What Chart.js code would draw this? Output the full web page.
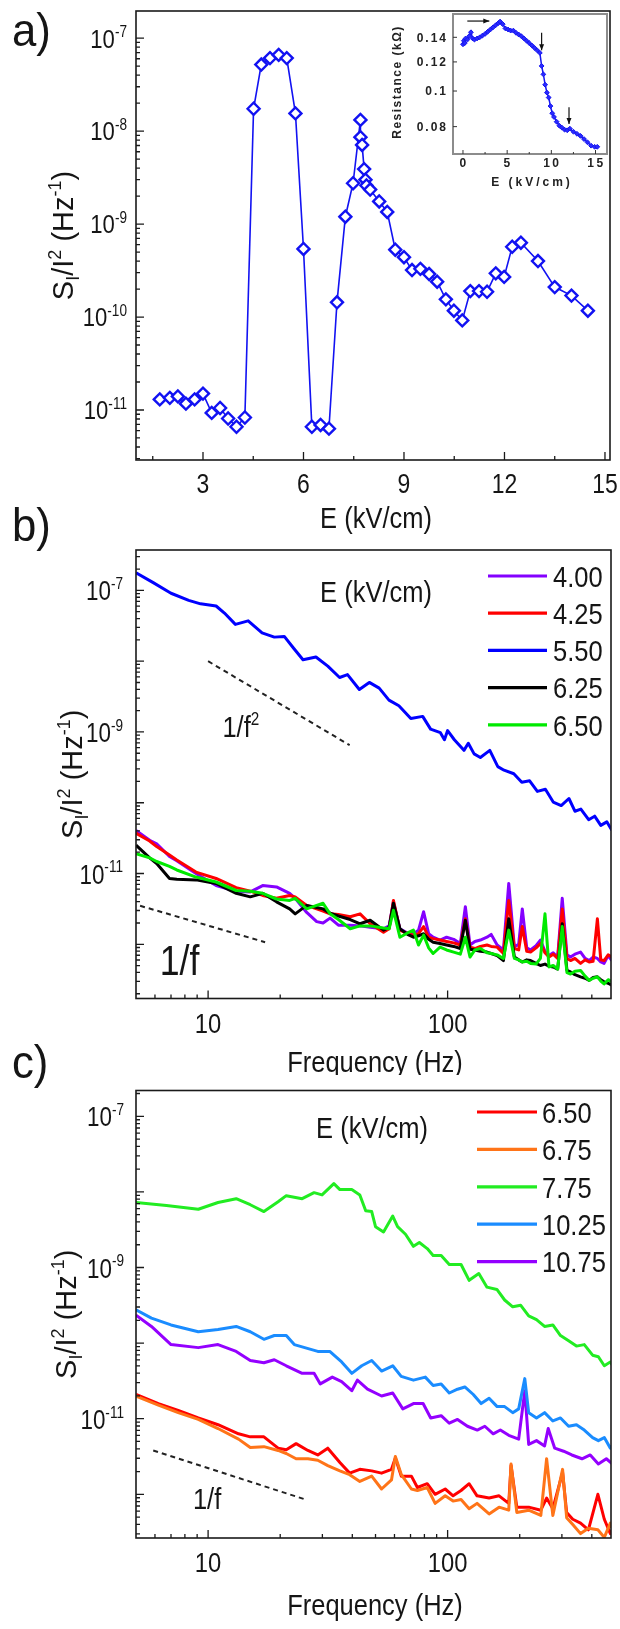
<!DOCTYPE html>
<html lang="en">
<head>
<meta charset="UTF-8">
<title>Noise spectra vs field</title>
<script src="https://cdn.jsdelivr.net/npm/chart.js@4.4.1/dist/chart.umd.min.js"></script>
<style>
    body { margin: 0; background: #fff; }
    #page { position: relative; width: 620px; height: 1629px; overflow: hidden; }
    canvas { position: absolute; }
</style>
</head>
<body>
<div id="page">
    <canvas id="chartA" width="620" height="540" style="left:0;top:0;width:620px;height:540px"></canvas>
    <canvas id="chartB" width="620" height="545" style="left:0;top:530px;width:620px;height:545px"></canvas>
    <canvas id="chartC" width="620" height="564" style="left:0;top:1065px;width:620px;height:564px"></canvas>
    <canvas id="inset" width="235" height="200" style="left:380px;top:0;width:235px;height:200px"></canvas>
    <canvas id="labels" width="620" height="1629" style="left:0;top:0;width:620px;height:1629px;pointer-events:none"></canvas>
</div>
<script>
// ---------- panel a: normalised noise vs field ----------
const fieldA = [1.71, 2.01, 2.25, 2.49, 2.75, 3.0, 3.26, 3.51, 3.75, 4.0, 4.25,
    4.51, 4.74, 5.0, 5.26, 5.5, 5.76, 6.0, 6.25, 6.51, 6.76, 7.0, 7.25, 7.48,
    7.7, 7.7, 7.75, 7.81, 7.85, 7.88, 7.99, 8.26, 8.5, 8.74, 9.0, 9.24, 9.49,
    9.75, 9.99, 10.25, 10.49, 10.74, 10.98, 11.24, 11.48, 11.74, 11.99, 12.23,
    12.49, 13.0, 13.5, 14.0, 14.49];
const noiseA = [1.3e-11, 1.35e-11, 1.4e-11, 1.17e-11, 1.3e-11, 1.5e-11, 9.3e-12, 1.05e-11, 8.1e-12, 6.6e-12, 8.3e-12,
    1.74e-8, 5.2e-8, 6.1e-8, 6.6e-8, 6.1e-8, 1.55e-8, 5.4e-10, 6.6e-12, 6.9e-12, 6.3e-12, 1.44e-10, 1.2e-9, 2.75e-9,
    1.32e-8, 8.6e-9, 7.1e-9, 3.9e-9, 3.0e-9, 2.6e-9, 2.35e-9, 1.75e-9, 1.35e-9, 5.3e-10, 4.4e-10, 3.2e-10, 3.3e-10,
    2.9e-10, 2.4e-10, 1.55e-10, 1.17e-10, 9.2e-11, 1.9e-10, 1.9e-10, 1.87e-10, 2.95e-10, 2.7e-10, 5.7e-10,
    6.3e-10, 4.0e-10, 2.1e-10, 1.7e-10, 1.17e-10];
const aXTicks = [3, 6, 9, 12, 15];
const aXMinor = [1.5, 4.5, 7.5, 10.5, 13.5];
const aYLabels = [-7, -8, -9, -10, -11];

// inset: resistance (kOhm) vs field
const insetE = [0.0, 0.1, 0.2, 0.3, 0.5, 0.7, 0.9, 1.1, 1.3, 1.6,
    1.9, 2.2, 2.5, 2.8, 3.1, 3.4, 3.7, 4.0, 4.2, 4.5,
    4.8, 5.1, 5.4, 5.7, 6.0, 6.3, 6.6, 6.9, 7.2, 7.5,
    7.8, 8.1, 8.4, 8.7, 8.9, 9.1, 9.3, 9.5, 9.7, 9.9,
    10.1, 10.3, 10.6, 10.9, 11.2, 11.5, 11.8, 12.1, 12.5, 12.9,
    13.3, 13.7, 14.1, 14.5, 14.9, 15.2];
const insetR = [0.134, 0.137, 0.135, 0.139, 0.138, 0.141, 0.1445, 0.139, 0.138, 0.139,
    0.140, 0.1415, 0.143, 0.145, 0.147, 0.149, 0.151, 0.153, 0.1545, 0.152,
    0.148, 0.147, 0.146, 0.146, 0.144, 0.1425, 0.141, 0.139, 0.137, 0.135,
    0.133, 0.131, 0.129, 0.127, 0.117, 0.111, 0.104, 0.099, 0.096, 0.091,
    0.087, 0.085, 0.0825, 0.0805, 0.0795, 0.0785, 0.0782, 0.079, 0.0775, 0.0765,
    0.0755, 0.074, 0.0725, 0.071, 0.0705, 0.0705];
const insetXTicks = [0, 5, 10, 15];
const insetYTicks = [0.08, 0.1, 0.12, 0.14];
const insetYText = ['0.08', '0.1', '0.12', '0.14'];
// arrows: [E0, R0, E1, R1]
const insetArrows = [[0.49, 0.155, 2.98, 0.155], [8.9, 0.144, 8.9, 0.129], [12.0, 0.0904, 12.0, 0.0813]];

// ---------- panel b: spectra (log10 of S_I/I^2) ----------
const freqB = [5, 5.7, 6.1, 6.9, 7.4, 8.9, 10.8, 13.1, 15, 16.9,
    19.3, 21.9, 23.1, 25.8, 28.4, 30.2, 32.3, 35, 39.2, 43.1,
    47.5, 54, 57, 59.4, 63.2, 68, 72, 75.6, 79.4, 83.3,
    87, 93, 99, 106, 113, 118.6, 124, 130, 137, 146,
    152, 161, 171, 180, 190, 198, 205, 214, 222, 234,
    244, 255, 265, 276, 288, 301, 315, 326, 340, 359,
    375, 390, 405, 422, 436, 450, 468, 485];
const expB400 = [-10.39, -10.53, -10.58, -10.76, -10.82, -11.00, -11.17, -11.25, -11.26, -11.17,
    -11.19, -11.28, -11.35, -11.55, -11.68, -11.70, -11.63, -11.73, -11.73, -11.74,
    -11.76, -11.78, -11.74, -11.40, -11.78, -11.84, -11.85, -11.80, -11.54, -11.85,
    -11.90, -11.94, -11.90, -11.93, -11.99, -11.47, -12.01, -11.96, -11.94, -11.90,
    -11.86, -12.01, -12.08, -11.14, -12.04, -12.00, -11.50, -12.05, -12.08, -12.02,
    -11.94, -12.10, -12.16, -12.12, -12.18, -11.35, -12.15, -12.18, -12.14, -12.11,
    -12.20, -12.23, -12.18, -12.20, -12.25, -12.27, -12.16, -12.23];
const expB425 = [-10.43, -10.54, -10.62, -10.74, -10.81, -10.98, -11.07, -11.20, -11.25, -11.31,
    -11.35, -11.31, -11.33, -11.45, -11.50, -11.53, -11.57, -11.58, -11.61, -11.57,
    -11.71, -11.83, -11.78, -11.38, -11.80, -11.85, -11.87, -11.85, -11.75, -11.90,
    -11.92, -11.94, -11.96, -11.98, -12.01, -11.64, -12.04, -12.06, -12.03, -12.01,
    -12.03, -12.04, -12.13, -11.38, -12.06, -12.08, -11.75, -12.10, -12.11, -12.05,
    -11.99, -12.12, -12.18, -12.14, -12.20, -11.50, -12.20, -12.23, -12.20, -12.27,
    -12.22, -12.25, -12.24, -11.64, -12.22, -12.23, -12.15, -12.18];
const expB625 = [-10.60, -10.78, -10.86, -11.07, -11.08, -11.09, -11.14, -11.28, -11.33, -11.28,
    -11.40, -11.50, -11.57, -11.45, -11.48, -11.50, -11.56, -11.60, -11.65, -11.71,
    -11.66, -11.80, -11.76, -11.42, -11.78, -11.86, -11.90, -11.88, -11.85, -11.93,
    -11.97, -11.99, -12.01, -12.03, -12.06, -11.66, -12.07, -12.08, -12.10, -12.11,
    -12.13, -12.16, -12.23, -11.64, -12.18, -12.22, -12.25, -12.22, -12.23, -12.27,
    -12.30, -12.28, -12.31, -12.32, -12.35, -11.71, -12.37, -12.39, -12.43, -12.46,
    -12.48, -12.51, -12.47, -12.46, -12.50, -12.53, -12.55, -12.58];
const expB650 = [-10.72, -10.78, -10.83, -10.90, -10.95, -11.05, -11.12, -11.24, -11.25, -11.28,
    -11.36, -11.38, -11.35, -11.50, -11.45, -11.42, -11.57, -11.65, -11.78, -11.74,
    -11.74, -11.77, -11.78, -11.52, -11.90, -11.84, -11.80, -12.01, -11.87, -12.05,
    -12.13, -12.04, -12.08, -12.11, -12.14, -11.90, -12.18, -12.08, -12.06, -12.12,
    -12.13, -12.15, -12.20, -11.80, -12.20, -12.22, -12.25, -12.24, -12.27, -12.28,
    -12.20, -11.57, -12.32, -12.30, -12.35, -11.75, -12.40, -12.42, -12.38, -12.37,
    -12.45, -12.51, -12.48, -12.46, -12.52, -12.56, -12.50, -12.53];
const freqB550 = [5, 5.9, 7.0, 8.3, 9.3, 10.8, 11.7, 13.0, 14.7, 16.8,
    18.9, 20.8, 22.8, 24.9, 28.2, 31.6, 35.4, 38.2, 42.8, 47.1,
    51.8, 56.9, 62.6, 70.2, 78.7, 84.9, 93.3, 97, 100, 106.7,
    117, 122, 129, 137, 150, 162, 172, 189, 204, 220,
    237, 256, 276, 298, 321, 340, 360, 388, 411, 436, 462, 485];
const expB550 = [-6.75, -6.89, -7.04, -7.14, -7.19, -7.22, -7.32, -7.48, -7.43, -7.60,
    -7.66, -7.65, -7.82, -7.98, -7.94, -8.07, -8.23, -8.19, -8.40, -8.30,
    -8.38, -8.55, -8.63, -8.81, -8.78, -8.96, -9.01, -9.11, -8.98, -9.11,
    -9.26, -9.16, -9.31, -9.36, -9.26, -9.49, -9.54, -9.59, -9.71, -9.69,
    -9.84, -9.81, -9.99, -10.04, -9.94, -10.12, -10.09, -10.24, -10.19, -10.32, -10.27, -10.39];
const legendB = ['4.00', '4.25', '5.50', '6.25', '6.50'];
const colorsB = ['#8400ff', '#ff0000', '#0000ff', '#000000', '#00ea00'];
// guide slopes (frequency, S_I/I^2)
const guideB2 = { f: [10, 39], s: [1.0e-8, 6.5e-10] };
const guideB1 = { f: [5.2, 17.3], s: [3.5e-12, 1.07e-12] };

// ---------- panel c ----------
const freqC775 = [5, 6.7, 9.1, 11.0, 13.1, 15, 17.1, 19.6, 21.2, 24.7,
    27.7, 29.9, 33.5, 35.5, 39.8, 43, 45.5, 48.2, 50, 54,
    59, 61.8, 66.7, 72, 76.2, 82.2, 87, 94, 101.6, 113.8,
    123, 135, 146, 160.6, 173, 187, 202, 218, 235, 254,
    275, 296, 320, 345, 372, 403, 426, 451, 478, 497];
const expC775 = [-8.14, -8.18, -8.23, -8.14, -8.09, -8.17, -8.26, -8.13, -8.05, -8.09,
    -8.01, -8.04, -7.89, -7.97, -7.97, -8.04, -8.25, -8.26, -8.46, -8.53,
    -8.32, -8.46, -8.56, -8.72, -8.67, -8.75, -8.84, -8.84, -8.96, -8.96,
    -9.17, -9.08, -9.26, -9.29, -9.43, -9.52, -9.50, -9.64, -9.69, -9.78,
    -9.76, -9.90, -9.97, -10.04, -10.02, -10.16, -10.18, -10.30, -10.25, -10.33];
const freqC1025 = [5, 5.8, 7.0, 9.1, 11, 13.1, 15, 17.1, 18.9, 21.2,
    22.9, 28.7, 32.2, 36.1, 39.8, 43.8, 48.2, 53, 59, 64,
    72, 80.7, 87, 94, 101.6, 110, 118, 128, 138, 149,
    161, 173, 187, 198, 210, 218, 235, 254, 275, 296,
    320, 345, 372, 403, 426, 451, 478, 497];
const expC1025 = [-9.56, -9.67, -9.76, -9.85, -9.82, -9.78, -9.85, -9.95, -9.90, -9.90,
    -10.02, -10.11, -10.11, -10.25, -10.40, -10.30, -10.23, -10.37, -10.30, -10.44,
    -10.49, -10.45, -10.56, -10.54, -10.66, -10.61, -10.58, -10.68, -10.80, -10.73,
    -10.84, -10.84, -10.92, -10.87, -10.47, -10.92, -10.99, -10.92, -11.03, -10.99,
    -11.10, -11.08, -11.15, -11.25, -11.29, -11.25, -11.39, -11.32];
const freqC1075 = [5, 5.8, 7, 9.1, 11, 13.1, 15, 17.1, 18.9, 21.2,
    24.7, 27.7, 29.4, 33, 36.1, 39.8, 42, 46.3, 53, 59,
    65, 72, 79, 85, 94, 101.6, 110, 121, 133, 143,
    155, 166, 180, 198, 210, 218, 235, 254, 263, 280,
    305, 330, 364, 394, 426, 460, 497];
const expC1075 = [-9.63, -9.78, -10.02, -10.06, -10.02, -10.11, -10.23, -10.26, -10.22, -10.30,
    -10.40, -10.40, -10.54, -10.45, -10.51, -10.63, -10.49, -10.61, -10.70, -10.66,
    -10.87, -10.80, -10.80, -10.99, -10.96, -11.06, -11.01, -11.10, -11.15, -11.10,
    -11.20, -11.15, -11.22, -11.27, -10.63, -11.34, -11.29, -11.36, -11.13, -11.39,
    -11.43, -11.48, -11.53, -11.48, -11.60, -11.53, -11.62];
const freqC6 = [5, 6.2, 7.5, 9.1, 11, 13.4, 15, 17.1, 19.6, 21.2,
    23.3, 26.1, 28.7, 31.6, 35.5, 39, 43, 48.2, 53, 58.3,
    60.5, 64.1, 70.6, 74.8, 82.2, 88.7, 97.7, 105.4, 113.8, 123,
    132.7, 149, 164, 180, 184, 194.5, 218, 245, 259, 275,
    302, 314, 333, 359, 387, 424, 451, 478, 497];
const expC650 = [-10.68, -10.80, -10.89, -10.99, -11.08, -11.20, -11.24, -11.24, -11.39, -11.41,
    -11.33, -11.42, -11.48, -11.39, -11.58, -11.72, -11.67, -11.69, -11.72, -11.67,
    -11.52, -11.76, -11.76, -11.91, -11.86, -12.00, -11.93, -12.02, -11.95, -11.86,
    -12.02, -12.05, -12.02, -12.12, -11.62, -12.17, -12.17, -12.21, -12.05, -12.19,
    -11.71, -12.24, -12.33, -12.38, -12.47, -12.00, -12.33, -12.52, -12.42];
const expC675 = [-10.70, -10.82, -10.92, -11.01, -11.13, -11.27, -11.38, -11.37, -11.42, -11.46,
    -11.53, -11.53, -11.55, -11.62, -11.69, -11.74, -11.83, -11.76, -11.93, -11.81,
    -11.50, -11.74, -11.93, -11.95, -11.91, -12.12, -12.02, -12.09, -12.07, -12.19,
    -12.12, -12.26, -12.17, -12.21, -11.60, -12.24, -12.21, -12.28, -11.53, -12.28,
    -11.67, -12.31, -12.40, -12.52, -12.45, -12.47, -12.57, -12.38, -12.52];
const legendC = ['6.50', '6.75', '7.75', '10.25', '10.75'];
const colorsC = ['#ff0000', '#ff7418', '#22ec22', '#1a8cff', '#9400ff'];
const guideC1 = { f: [5.9, 25.6], s: [3.8e-12, 8.5e-13] };

const freqTicks = [10, 100];
const freqMinor = [6, 7, 8, 9, 20, 30, 40, 50, 60, 70, 80, 90, 200, 300, 400];
const bcYLabels = [-7, -9, -11];

// ---------- helpers ----------
const FONT = '"Liberation Sans", Arial, Helvetica, sans-serif';
const INK = '#151515';

Chart.defaults.animation = false;
Chart.defaults.events = [];
Chart.defaults.font.family = FONT;
Chart.defaults.plugins.legend.display = false;
Chart.defaults.plugins.tooltip.enabled = false;

const pts = (xs, ys) => xs.map((x, i) => ({ x: x, y: ys[i] }));
const ptsExp = (xs, es) => xs.map((x, i) => ({ x: x, y: Math.pow(10, es[i]) }));

// text with sub/superscripts; parts = [[text, kind]], kind 1 = sup, -1 = sub
function richText(ctx, parts, x, y, o) {
    const size = o.size, small = o.small || Math.round(size * 0.62);
    const weight = o.bold ? 'bold ' : '';
    ctx.save();
    ctx.letterSpacing = (o.ls || 0) + 'px';
    const widths = parts.map(([t, k]) => {
        ctx.font = weight + (k ? small : size) + 'px ' + FONT;
        return ctx.measureText(t).width;
    });
    const total = widths.reduce((s, w) => s + w, 0);
    ctx.translate(x, y);
    if (o.rot) ctx.rotate(o.rot);
    ctx.scale(o.sx || 1, 1);
    let cx = o.align === 'right' ? -total : o.align === 'left' ? 0 : -total / 2;
    const base = o.middle ? size * 0.36 : 0;
    ctx.fillStyle = o.color || INK;
    ctx.textAlign = 'left';
    ctx.textBaseline = 'alphabetic';
    parts.forEach(([t, k], i) => {
        ctx.font = weight + (k ? small : size) + 'px ' + FONT;
        const dy = k > 0 ? -size * 0.4 : k < 0 ? size * 0.22 : 0;
        ctx.fillText(t, cx, base + dy);
        cx += widths[i];
    });
    ctx.restore();
}

function logTicks(lo, hi) {
    const major = [], minor = [];
    for (let e = Math.floor(lo); e <= Math.ceil(hi); e++) {
        for (let m = 1; m < 10; m++) {
            const lv = e + Math.log10(m);
            if (lv < lo || lv > hi) continue;
            (m === 1 ? major : minor).push(m * Math.pow(10, e));
        }
    }
    return { major, minor };
}

// frame + inward ticks, then panel specific text
function framePlugin(o) {
    return {
        id: 'frame',
        beforeDatasetsDraw(chart) {
            if (!o.fill) return;
            const a = chart.chartArea, ctx = chart.ctx;
            ctx.save();
            ctx.fillStyle = o.fill;
            ctx.fillRect(a.left, a.top, a.right - a.left, a.bottom - a.top);
            ctx.restore();
        },
        afterDatasetsDraw(chart) {
            const { ctx, chartArea: a } = chart;
            const sx = chart.scales.x, sy = chart.scales.y;
            ctx.save();
            ctx.strokeStyle = o.frameColor || '#1a1a1a';
            ctx.lineWidth = o.frameWidth || 1.6;
            ctx.strokeRect(a.left, a.top, a.right - a.left, a.bottom - a.top);
            ctx.strokeStyle = o.tickColor || '#1a1a1a';
            ctx.lineWidth = o.tickWidth || 1.3;
            ctx.beginPath();
            const xt = (v, len) => {
                const p = sx.getPixelForValue(v);
                if (p < a.left + 1 || p > a.right - 1) return;
                ctx.moveTo(p, a.bottom); ctx.lineTo(p, a.bottom - len);
            };
            const yt = (v, len) => {
                const p = sy.getPixelForValue(v);
                if (p < a.top + 1 || p > a.bottom - 1) return;
                ctx.moveTo(a.left, p); ctx.lineTo(a.left + len, p);
            };
            o.xMajor.forEach(v => xt(v, o.major));
            o.xMinor.forEach(v => xt(v, o.minor));
            o.yMajor.forEach(v => yt(v, o.major));
            o.yMinor.forEach(v => yt(v, o.minor));
            ctx.stroke();
            ctx.restore();
            if (o.decorate) o.decorate(chart, ctx, a, sx, sy);
        }
    };
}

const yTitle = [['S', 0], ['I', -1], ['/I', 0], ['2', 1], [' (Hz', 0], ['-1', 1], [')', 0]];

function spectrumLine(fr, ex, color) {
    return {
        data: ptsExp(fr, ex), borderColor: color, borderWidth: 3,
        borderJoinStyle: 'round', pointRadius: 0, pointHoverRadius: 0
    };
}
function guideLine(g) {
    return {
        data: pts(g.f, g.s), borderColor: '#222', borderWidth: 2,
        borderDash: [5, 4], pointRadius: 0, pointHoverRadius: 0
    };
}
function drawLegend(ctx, a, labels, colors, x0, x1, tx, y0, dy) {
    labels.forEach((lab, i) => {
        const yy = a.top + y0 + dy * i;
        ctx.save();
        ctx.strokeStyle = colors[i];
        ctx.lineWidth = 3.2;
        ctx.beginPath(); ctx.moveTo(x0, yy); ctx.lineTo(x1, yy); ctx.stroke();
        ctx.restore();
        richText(ctx, [[lab, 0]], tx, yy, { size: 30, sx: 0.85, align: 'left', middle: true });
    });
}

// ---------- panel a ----------
const aLo = -11.538, aHi = -6.708;
const aLog = logTicks(aLo, aHi);
new Chart(document.getElementById('chartA'), {
    type: 'line',
    data: {
        datasets: [{
            data: pts(fieldA, noiseA),
            borderColor: '#1212f2', borderWidth: 1.6,
            pointStyle: 'rectRot', pointRadius: 6, pointHoverRadius: 6,
            pointBorderWidth: 2.4, pointBorderColor: '#1212f2', pointBackgroundColor: '#fff'
        }]
    },
    options: {
        responsive: false,
        layout: { padding: { left: 136, top: 11, right: 10, bottom: 80 } },
        scales: {
            x: { type: 'linear', display: false, bounds: 'data', min: 1, max: 15.15 },
            y: { type: 'logarithmic', display: false, bounds: 'data', min: Math.pow(10, aLo), max: Math.pow(10, aHi) }
        }
    },
    plugins: [framePlugin({
        xMajor: aXTicks, xMinor: aXMinor, yMajor: aLog.major, yMinor: aLog.minor,
        major: 8, minor: 4,
        decorate(chart, ctx, a, sx, sy) {
            aYLabels.forEach(e => richText(ctx, [['10', 0], [String(e), 1]], a.left - 9,
                sy.getPixelForValue(Math.pow(10, e)), { size: 26, small: 16, sx: 0.85, align: 'right', middle: true }));
            aXTicks.forEach(v => richText(ctx, [[String(v), 0]], sx.getPixelForValue(v), a.bottom + 23,
                { size: 27, sx: 0.85, middle: true }));
            richText(ctx, [['E (kV/cm)', 0]], (a.left + a.right) / 2 + 3, a.bottom + 57, { size: 30, sx: 0.85, middle: true });
            richText(ctx, yTitle, a.left - 63, (a.top + a.bottom) / 2, { size: 29, small: 18, rot: -Math.PI / 2 });
        }
    })]
});

// ---------- inset ----------
new Chart(document.getElementById('inset'), {
    type: 'line',
    data: {
        datasets: [{
            data: pts(insetE, insetR),
            borderColor: '#1414f0', borderWidth: 1.5,
            pointStyle: 'rectRot', pointRadius: 2.4, pointHoverRadius: 2.4,
            pointBorderWidth: 1, pointBorderColor: '#1414f0', pointBackgroundColor: '#2a2aff'
        }]
    },
    options: {
        responsive: false,
        layout: { padding: { left: 73, top: 14, right: 8, bottom: 46 } },
        scales: {
            x: { type: 'linear', display: false, bounds: 'data', min: -1.13, max: 16.3 },
            y: { type: 'logarithmic', display: false, bounds: 'data', min: 0.0674, max: 0.162 }
        }
    },
    plugins: [framePlugin({
        fill: '#fff', frameColor: '#8c8c8c', frameWidth: 2, tickColor: '#333', tickWidth: 1,
        xMajor: insetXTicks, xMinor: [2.5, 7.5, 12.5], yMajor: insetYTicks, yMinor: [],
        major: 4, minor: 2,
        decorate(chart, ctx, a, sx, sy) {
            insetYTicks.forEach((v, i) => richText(ctx, [[insetYText[i], 0]], a.left - 5, sy.getPixelForValue(v),
                { size: 12, bold: true, ls: 2, align: 'right', middle: true, color: '#222' }));
            insetXTicks.forEach(v => richText(ctx, [[String(v), 0]], sx.getPixelForValue(v) + 1, a.bottom + 9,
                { size: 12, bold: true, ls: 2.5, middle: true, color: '#222' }));
            richText(ctx, [['E (kV/cm)', 0]], (a.left + a.right) / 2 + 2, a.bottom + 28,
                { size: 12, bold: true, ls: 3, middle: true, color: '#222' });
            richText(ctx, [['Resistance (k\u03A9)', 0]], a.left - 56, (a.top + a.bottom) / 2 - 2,
                { size: 12, bold: true, ls: 1.5, rot: -Math.PI / 2, middle: true, color: '#222' });
            ctx.save();
            ctx.strokeStyle = '#111'; ctx.fillStyle = '#111'; ctx.lineWidth = 1.2;
            insetArrows.forEach(([e0, r0, e1, r1]) => {
                const x0 = sx.getPixelForValue(e0), y0 = sy.getPixelForValue(r0);
                const x1 = sx.getPixelForValue(e1), y1 = sy.getPixelForValue(r1);
                const ang = Math.atan2(y1 - y0, x1 - x0);
                ctx.beginPath(); ctx.moveTo(x0, y0); ctx.lineTo(x1, y1); ctx.stroke();
                ctx.beginPath();
                ctx.moveTo(x1, y1);
                ctx.lineTo(x1 - 6 * Math.cos(ang) + 2.5 * Math.sin(ang), y1 - 6 * Math.sin(ang) - 2.5 * Math.cos(ang));
                ctx.lineTo(x1 - 6 * Math.cos(ang) - 2.5 * Math.sin(ang), y1 - 6 * Math.sin(ang) + 2.5 * Math.cos(ang));
                ctx.closePath(); ctx.fill();
            });
            ctx.restore();
        }
    })]
});

// ---------- panel b ----------
const bLo = -12.766, bHi = -6.429;
const bLog = logTicks(bLo, bHi);
new Chart(document.getElementById('chartB'), {
    type: 'line',
    data: {
        datasets: [
            spectrumLine(freqB, expB650, colorsB[4]),
            spectrumLine(freqB, expB625, colorsB[3]),
            spectrumLine(freqB, expB425, colorsB[1]),
            spectrumLine(freqB, expB400, colorsB[0]),
            spectrumLine(freqB550, expB550, colorsB[2]),
            guideLine(guideB2),
            guideLine(guideB1)
        ]
    },
    options: {
        responsive: false,
        layout: { padding: { left: 136, top: 20, right: 9, bottom: 76.5 } },
        scales: {
            x: { type: 'logarithmic', display: false, bounds: 'data', min: 5, max: 481 },
            y: { type: 'logarithmic', display: false, bounds: 'data', min: Math.pow(10, bLo), max: Math.pow(10, bHi) }
        }
    },
    plugins: [framePlugin({
        xMajor: freqTicks, xMinor: freqMinor, yMajor: bLog.major, yMinor: bLog.minor,
        major: 8, minor: 4,
        decorate(chart, ctx, a, sx, sy) {
            bcYLabels.forEach(e => richText(ctx, [['10', 0], [String(e), 1]], a.left - 13,
                sy.getPixelForValue(Math.pow(10, e)), { size: 28, small: 17, sx: 0.8, align: 'right', middle: true }));
            freqTicks.forEach(v => richText(ctx, [[String(v), 0]], sx.getPixelForValue(v), a.bottom + 24.5,
                { size: 28, sx: 0.85, middle: true }));
            richText(ctx, [['Frequency (Hz)', 0]], 375, a.bottom + 62.5, { size: 30, sx: 0.85, middle: true });
            richText(ctx, yTitle, a.left - 54, (a.top + a.bottom) / 2, { size: 29, small: 18, rot: -Math.PI / 2 });
            richText(ctx, [['E (kV/cm)', 0]], 376, a.top + 41, { size: 30, sx: 0.85, middle: true });
            richText(ctx, [['1/f', 0], ['2', 1]], sx.getPixelForValue(13.7), sy.getPixelForValue(1.21e-9),
                { size: 30, small: 18, sx: 0.85, middle: true });
            richText(ctx, [['1/f', 0]], sx.getPixelForValue(7.6), sy.getPixelForValue(6.0e-13),
                { size: 42, sx: 0.85, middle: true });
            drawLegend(ctx, a, legendB, colorsB, 488, 547, 553, 26, 37.2);
        }
    })]
});

// ---------- panel c ----------
const cLo = -12.578, cHi = -6.659;
const cLog = logTicks(cLo, cHi);
new Chart(document.getElementById('chartC'), {
    type: 'line',
    data: {
        datasets: [
            spectrumLine(freqC6, expC675, colorsC[1]),
            spectrumLine(freqC6, expC650, colorsC[0]),
            spectrumLine(freqC775, expC775, colorsC[2]),
            spectrumLine(freqC1025, expC1025, colorsC[3]),
            spectrumLine(freqC1075, expC1075, colorsC[4]),
            guideLine(guideC1)
        ]
    },
    options: {
        responsive: false,
        layout: { padding: { left: 136, top: 25.5, right: 9, bottom: 91 } },
        scales: {
            x: { type: 'logarithmic', display: false, bounds: 'data', min: 5, max: 481 },
            y: { type: 'logarithmic', display: false, bounds: 'data', min: Math.pow(10, cLo), max: Math.pow(10, cHi) }
        }
    },
    plugins: [framePlugin({
        xMajor: freqTicks, xMinor: freqMinor, yMajor: cLog.major, yMinor: cLog.minor,
        major: 8, minor: 4,
        decorate(chart, ctx, a, sx, sy) {
            bcYLabels.forEach(e => richText(ctx, [['10', 0], [String(e), 1]], a.left - 12,
                sy.getPixelForValue(Math.pow(10, e)), { size: 28, small: 17, sx: 0.8, align: 'right', middle: true }));
            freqTicks.forEach(v => richText(ctx, [[String(v), 0]], sx.getPixelForValue(v), a.bottom + 23.7,
                { size: 28, sx: 0.85, middle: true }));
            richText(ctx, [['Frequency (Hz)', 0]], 375, a.bottom + 66, { size: 30, sx: 0.85, middle: true });
            richText(ctx, yTitle, a.left - 60.5, (a.top + a.bottom) / 2, { size: 29, small: 18, rot: -Math.PI / 2 });
            richText(ctx, [['E (kV/cm)', 0]], 372, a.top + 36.5, { size: 30, sx: 0.85, middle: true });
            richText(ctx, [['1/f', 0]], sx.getPixelForValue(9.9), sy.getPixelForValue(8.9e-13),
                { size: 30, sx: 0.85, middle: true });
            drawLegend(ctx, a, legendC, colorsC, 477, 537, 542, 21.5, 37.4);
        }
    })]
});

// ---------- panel letters ----------
const lab = document.getElementById('labels').getContext('2d');
[['a)', 46], ['b)', 541], ['c)', 1078]].forEach(([t, y]) =>
    richText(lab, [[t, 0]], 12, y, { size: 46, sx: 0.95, align: 'left' }));
</script>
</body>
</html>
